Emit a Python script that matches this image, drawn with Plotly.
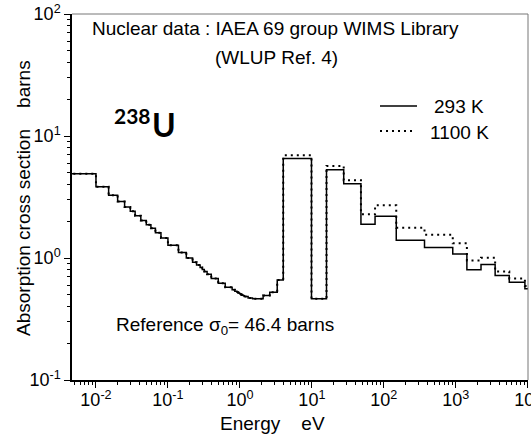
import plotly.graph_objects as go

# WIMS 69-group energy boundaries (eV), ascending (visible range)
energy_edges = [0.004, 0.01, 0.015, 0.02, 0.025, 0.03, 0.035, 0.042, 0.05, 0.058,
                0.067, 0.08, 0.1, 0.14, 0.18, 0.22, 0.25, 0.28, 0.3, 0.32, 0.35,
                0.4, 0.5, 0.625, 0.78, 0.85, 0.91, 0.95, 0.972, 0.996, 1.02, 1.045,
                1.071, 1.097, 1.123, 1.15, 1.3, 1.5, 2.1, 2.6, 3.3, 4.0, 9.877,
                15.968, 27.7, 48.052, 75.5014, 148.728, 367.262, 906.898, 1425.1,
                2239.45, 3519.1, 5530.0, 9118.0, 15030.0]

# group absorption cross sections (barns)
sigma_293 = [4.9, 3.84, 3.27, 2.90, 2.62, 2.42, 2.22, 2.03, 1.87, 1.75,
             1.61, 1.46, 1.27, 1.11, 1.00, 0.925, 0.875, 0.835, 0.805, 0.775,
             0.735, 0.68, 0.62, 0.575, 0.55, 0.535, 0.525, 0.52, 0.515, 0.51,
             0.505, 0.50, 0.497, 0.494, 0.491, 0.483, 0.47, 0.463, 0.493, 0.525,
             0.66, 6.53, 0.463, 5.3, 4.07, 1.89, 2.20, 1.40, 1.22, 1.08,
             0.80, 0.886, 0.72, 0.634, 0.56]

sigma_1100 = [4.9, 3.84, 3.27, 2.90, 2.62, 2.42, 2.22, 2.03, 1.87, 1.75,
              1.61, 1.46, 1.27, 1.11, 1.00, 0.925, 0.875, 0.835, 0.805, 0.775,
              0.735, 0.68, 0.62, 0.575, 0.55, 0.535, 0.525, 0.52, 0.515, 0.51,
              0.505, 0.50, 0.497, 0.494, 0.491, 0.483, 0.47, 0.463, 0.493, 0.525,
              0.66, 6.95, 0.463, 5.69, 4.34, 2.28, 2.71, 1.77, 1.55, 1.32,
              0.955, 1.005, 0.776, 0.68, 0.59]

series_names = ["293 K", "1100 K"]

x_tick_vals = [0.01, 0.1, 1, 10, 100, 1000, 10000]
x_tick_text = ["10<sup>-2</sup>", "10<sup>-1</sup>", "10<sup>0</sup>", "10<sup>1</sup>",
               "10<sup>2</sup>", "10<sup>3</sup>", "10<sup>4</sup>"]
y_tick_vals = [0.1, 1, 10, 100]
y_tick_text = ["10<sup>-1</sup>", "10<sup>0</sup>", "10<sup>1</sup>", "10<sup>2</sup>"]

FONT = "Liberation Sans, Arial, sans-serif"

fig = go.Figure()
fig.add_trace(go.Scatter(x=energy_edges, y=sigma_1100 + [sigma_1100[-1]],
                         mode="lines", line_shape="hv", name=series_names[1],
                         line=dict(color="black", width=2, dash="2px,4px"),
                         showlegend=False))
fig.add_trace(go.Scatter(x=energy_edges, y=sigma_293 + [sigma_293[-1]],
                         mode="lines", line_shape="hv", name=series_names[0],
                         line=dict(color="black", width=1.5),
                         showlegend=False))

L, R, T, B = 72, 3, 14, 55
W, H = 531, 435
pw, ph = W - L - R, H - T - B

def px(x):
    return (x - L) / pw

def py(y):
    return (H - B - y) / ph

fig.update_layout(
    width=W, height=H,
    margin=dict(l=L, r=R, t=T, b=B, pad=0, autoexpand=False),
    paper_bgcolor="white", plot_bgcolor="white",
    font=dict(family=FONT, size=19, color="black"),
)

fig.update_xaxes(type="log", range=[-2.333, 4.003], automargin=False,
                 tickmode="array", tickvals=x_tick_vals, ticktext=x_tick_text,
                 showgrid=False, zeroline=False,
                 showline=True, linecolor="black", linewidth=1.5,
                 ticks="outside", ticklen=6, tickwidth=1, tickcolor="black",
                 ticklabelstandoff=-3, ticklabeloverflow="allow",
                 tickfont=dict(size=18, family=FONT),
                 minor=dict(ticks="outside", ticklen=3, tickcolor="black",
                            dtick="D1", showgrid=False))
fig.update_yaxes(type="log", range=[-1, 2], automargin=False,
                 tickmode="array", tickvals=y_tick_vals, ticktext=y_tick_text,
                 showgrid=False, zeroline=False,
                 showline=True, linecolor="black", linewidth=1.5,
                 ticks="outside", ticklen=6, tickwidth=1, tickcolor="black",
                 tickfont=dict(size=18, family=FONT),
                 minor=dict(ticks="outside", ticklen=3, tickcolor="black",
                            dtick="D1", showgrid=False))

# top / right frame (grey)
fig.add_shape(type="line", xref="paper", yref="paper", x0=0, x1=1, y0=1, y1=1,
              line=dict(color="#777", width=1))
fig.add_shape(type="line", xref="paper", yref="paper", x0=1, x1=1, y0=0, y1=1,
              line=dict(color="#777", width=1))

# legend samples
fig.add_shape(type="line", xref="paper", yref="paper", x0=px(380), x1=px(417),
              y0=py(106), y1=py(106), line=dict(color="black", width=1.5))
fig.add_shape(type="line", xref="paper", yref="paper", x0=px(380), x1=px(414),
              y0=py(131), y1=py(131), line=dict(color="black", width=2, dash="2px,4px"))

ann = [
    dict(text=series_names[0], x=px(433), y=py(107), xanchor="left", yanchor="middle"),
    dict(text=series_names[1], x=px(429), y=py(132), xanchor="left", yanchor="middle"),
    dict(text="Nuclear data : IAEA 69 group WIMS Library", x=px(275), y=py(28),
         xanchor="center", yanchor="middle"),
    dict(text="(WLUP Ref. 4)", x=px(276), y=py(57), xanchor="center", yanchor="middle"),
    dict(text="Reference σ<sub>0</sub>= 46.4 barns", x=px(115), y=py(326),
         xanchor="left", yanchor="middle"),
    dict(text="Energy\u00a0\u00a0\u00a0\u00a0eV", x=px(272), y=py(423),
         xanchor="center", yanchor="middle"),
    dict(text="Absorption cross section\u00a0\u00a0\u00a0\u00a0barns", x=px(23), y=py(198),
         xanchor="center", yanchor="middle", textangle=-90),
    dict(text="<b>238</b>", x=px(152), y=py(116), xanchor="right", yanchor="middle",
         font=dict(family="Lato, sans-serif", size=21, color="black")),
    dict(text="<b>U</b>", x=px(151), y=py(124), xanchor="left", yanchor="middle",
         font=dict(family="Lato, sans-serif", size=32, color="black")),
]
for a in ann:
    a.setdefault("font", dict(family=FONT, size=19, color="black"))
    fig.add_annotation(xref="paper", yref="paper", showarrow=False, borderpad=0, **a)

fig.write_html("out.html")
